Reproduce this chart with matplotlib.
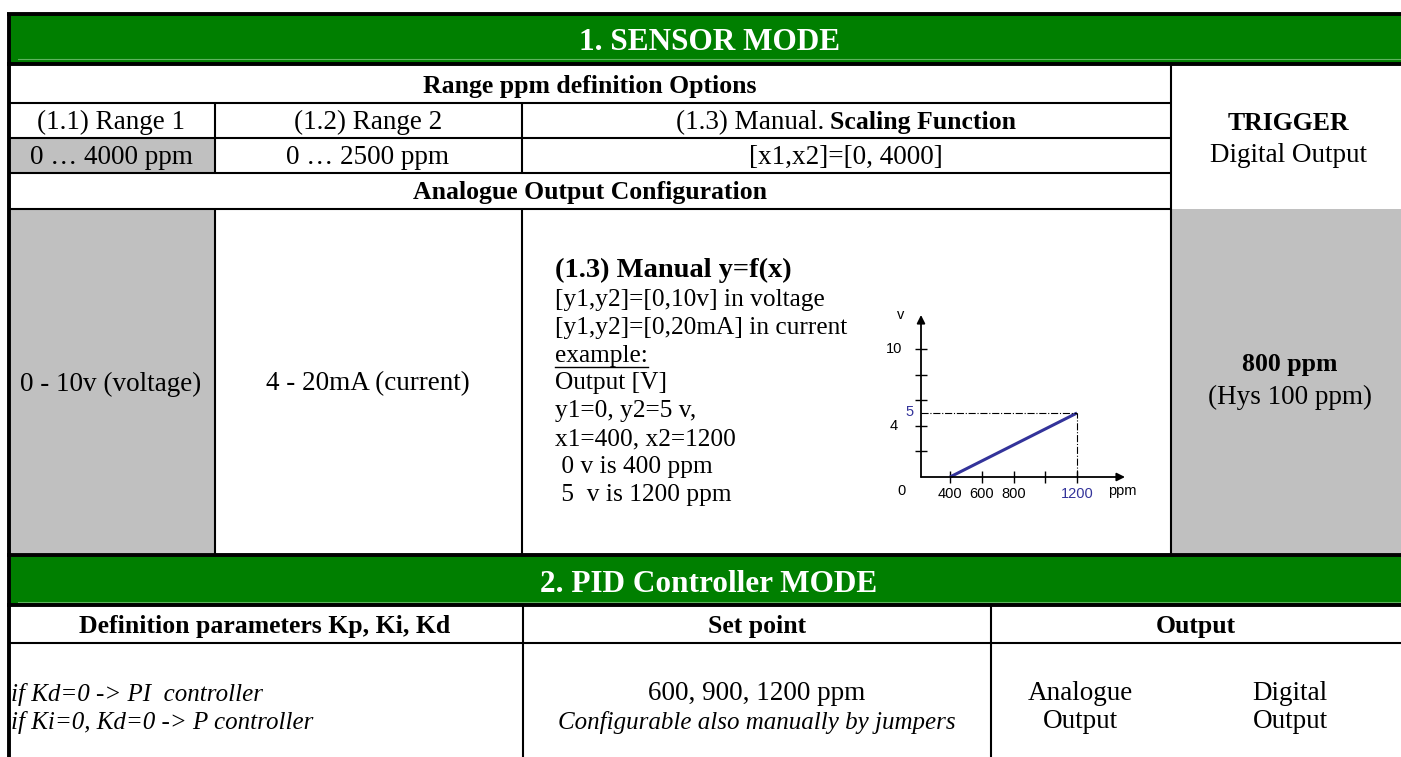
import matplotlib
matplotlib.use("Agg")
import matplotlib.pyplot as plt
from matplotlib.patches import Rectangle

# ---------------- data / texts ----------------
title_1 = "1. SENSOR MODE"
title_2 = "2. PID Controller MODE"
range_header = "Range ppm definition Options"
range_names = ["(1.1) Range 1", "(1.2) Range 2"]
range_manual = ["(1.3) Manual.", "Scaling Function"]
range_values = ["0 … 4000 ppm", "0 … 2500 ppm", "[x1,x2]=[0, 4000]"]
analogue_header = "Analogue Output Configuration"
analogue_opts = ["0 - 10v (voltage)", "4 - 20mA (current)"]
manual_title = "(1.3) Manual y=f(x)"
manual_lines = ["[y1,y2]=[0,10v] in voltage", "[y1,y2]=[0,20mA] in current",
                "example:", "Output [V]", "y1=0, y2=5 v,", "x1=400, x2=1200",
                " 0 v is 400 ppm", " 5  v is 1200 ppm"]
trigger_lines = ["TRIGGER", "Digital Output"]
trigger_values = ["800 ppm", "(Hys 100 ppm)"]
pid_headers = ["Definition parameters Kp, Ki, Kd", "Set point", "Output"]
pid_notes = ["if Kd=0 -> PI  controller", "if Ki=0, Kd=0 -> P controller"]
setpoint_lines = ["600, 900, 1200 ppm", "Configurable also manually by jumpers"]
output_kinds = [["Analogue", "Output"], ["Digital", "Output"]]

# mini chart data
line_ppm = [400, 1200]
line_volt = [0, 5]
x_ticks = [400, 600, 800, 1000, 1200]
x_ticklabels = ["400", "600", "800", "", "1200"]
y_ticks = [2, 4, 6, 8, 10]
y_labels_shown = {10: "10", 4: "4"}

# ---------------- styling ----------------
GREEN = "#007f00"
GRAY = "#c0c0c0"
BLUE = "#33339a"
SERIF = "Liberation Serif"
SANS = "Liberation Sans"

W, H = 1401, 757
fig = plt.figure(figsize=(W / 100, H / 100), dpi=100)
ax = fig.add_axes([0, 0, 1, 1])
ax.set_xlim(0, W)
ax.set_ylim(H, 0)
ax.axis("off")

thin = 1.5
thick = 2.8

def rect(x0, y0, x1, y1, color):
    ax.add_patch(Rectangle((x0, y0), x1 - x0, y1 - y0, facecolor=color, edgecolor="none", zorder=1))

rect(8, 13, W + 5, 63, GREEN)
rect(8, 554, W + 5, 605, GREEN)
rect(8, 138, 215, 173, GRAY)
rect(8, 209, 215, 553, GRAY)
rect(1171, 209, W + 5, 553, GRAY)

ax.plot([18, W], [58.5, 58.5], color="#5fb35f", lw=0.8, zorder=2)
ax.plot([18, W], [601.5, 601.5], color="#5fb35f", lw=0.8, zorder=2)

def hl(y, x0, x1, lw=thin):
    ax.plot([x0, x1], [y, y], color="black", lw=lw, solid_capstyle="butt", zorder=3)

def vl(x, y0, y1, lw=thin):
    ax.plot([x, x], [y0, y1], color="black", lw=lw, solid_capstyle="butt", zorder=3)

hl(14, 7, W + 5, thick)
hl(63.5, 7, W + 5, thick)
hl(554.5, 7, W + 5, thick)
hl(605, 7, W + 5, thick)
vl(8.5, 13, H + 5, thick)

hl(103, 8, 1171)
hl(138, 8, 1171)
hl(173, 8, 1171)
hl(209, 8, 1171)
vl(215, 103, 173)
vl(215, 209, 556)
vl(522, 103, 173)
vl(522, 209, 556)
vl(1171, 64, 556)

hl(643, 8, W + 5)
vl(523, 605, H + 5)
vl(991, 605, H + 5)

# ---------------- texts ----------------
FS = 19.5
FSB = 18.5
DY = 2

def txt(x, y, s, size=FS, weight="normal", style="normal", color="black", ha="center",
        family=SERIF, va="center"):
    return ax.text(x, y + DY, s, fontsize=size, fontweight=weight, fontstyle=style, color=color,
                   ha=ha, va=va, family=family, zorder=5)

txt(710, 41, title_1, size=22.5, weight="bold", color="white")
txt(709, 582, title_2, size=22.5, weight="bold", color="white")

txt(590, 84, range_header, size=FSB, weight="bold")
txt(111, 120, range_names[0])
txt(368, 120, range_names[1])

renderer = fig.canvas.get_renderer()
t1 = txt(0, 127, range_manual[0], ha="left", va="baseline")
t2 = txt(0, 127, range_manual[1], size=FSB, weight="bold", ha="left", va="baseline")
w1 = t1.get_window_extent(renderer).width
w2 = t2.get_window_extent(renderer).width
gap = 6
x_start = 846 - (w1 + gap + w2) / 2
t1.set_x(x_start)
t2.set_x(x_start + w1 + gap)

txt(111, 155, range_values[0])
txt(368, 155, range_values[1])
txt(846, 155, range_values[2])

txt(590, 191, analogue_header, size=FSB, weight="bold")

txt(1288, 121, trigger_lines[0], size=FSB, weight="bold")
txt(1288, 153, trigger_lines[1])

txt(111, 382, analogue_opts[0])
txt(368, 382, analogue_opts[1])

txt(1290, 362, trigger_values[0], size=FSB, weight="bold")
txt(1290, 395, trigger_values[1])

txt(555, 268, manual_title, size=20.5, weight="bold", ha="left")
y0 = 298
step = 27.8
for i, s in enumerate(manual_lines):
    t = txt(555, y0 + i * step, s, size=18.3, ha="left")
    if s == "example:":
        bb = t.get_window_extent(renderer)
        yy = y0 + i * step + DY + 11
        ax.plot([555, 555 + bb.width], [yy, yy], color="black", lw=1.0, zorder=5)

txt(265, 625, pid_headers[0], size=FSB, weight="bold")
txt(757, 625, pid_headers[1], size=FSB, weight="bold")
txt(1196, 625, pid_headers[2], size=FSB, weight="bold")
txt(11, 692, pid_notes[0], size=18, style="italic", ha="left")
txt(11, 720, pid_notes[1], size=18, style="italic", ha="left")
txt(757, 692, setpoint_lines[0])
txt(757, 721, setpoint_lines[1], size=18, style="italic")
for cx, lines in zip([1080, 1290], output_kinds):
    txt(cx, 692, lines[0])
    txt(cx, 720, lines[1])

# ---------------- mini chart ----------------
px_per_ppm = 0.15875
px_per_volt = 12.8
x_origin_px, y_origin_px = 921, 477
x_end_px, y_top_px = 1125, 315
xmin = 400 - (950 - x_origin_px) / px_per_ppm
xmax = xmin + (x_end_px - x_origin_px) / px_per_ppm
ymax = (y_origin_px - y_top_px) / px_per_volt

ax2 = fig.add_axes([x_origin_px / W, (H - y_origin_px) / H,
                    (x_end_px - x_origin_px) / W, (y_origin_px - y_top_px) / H])
ax2.set_xlim(xmin, xmax)
ax2.set_ylim(0, ymax)
ax2.patch.set_alpha(0)
for sp in ax2.spines.values():
    sp.set_visible(False)

ax2.annotate("", xy=(xmax, 0), xytext=(xmin, 0), annotation_clip=False,
             arrowprops=dict(arrowstyle="-|>", color="black", lw=1.3, mutation_scale=12, shrinkA=0, shrinkB=0))
ax2.annotate("", xy=(xmin, ymax), xytext=(xmin, 0), annotation_clip=False,
             arrowprops=dict(arrowstyle="-|>", color="black", lw=1.3, mutation_scale=12, shrinkA=0, shrinkB=0))

ax2.plot(line_ppm, line_volt, color=BLUE, lw=2.2, solid_capstyle="butt", clip_on=False)
ax2.plot([xmin, line_ppm[1]], [line_volt[1], line_volt[1]], color="black", lw=0.8, ls="-.", clip_on=False)
ax2.plot([line_ppm[1], line_ppm[1]], [0, line_volt[1]], color="black", lw=0.8, ls="-.", clip_on=False)

ax2.set_xticks(x_ticks)
ax2.set_xticklabels(x_ticklabels, family=SANS, fontsize=10.5)
ax2.get_xticklabels()[-1].set_color(BLUE)
ax2.set_yticks(y_ticks)
ax2.set_yticklabels([""] * len(y_ticks))
ax2.tick_params(axis="both", direction="inout", length=9, width=1.0, color="black")
ax2.tick_params(axis="x", pad=3)

for val, lab in y_labels_shown.items():
    ax2.text(xmin - 170, val, lab, family=SANS, fontsize=10.5, ha="center", va="center")
ax2.text(xmin - 70, line_volt[1] + 0.1, str(line_volt[1]), family=SANS, fontsize=10.5,
         color=BLUE, ha="center", va="center")
ax2.text(xmin - 130, ymax, "v", family=SANS, fontsize=10.5, ha="center", va="center")
ax2.text(xmin - 120, -1.1, "0", family=SANS, fontsize=10.5, ha="center", va="center")
ax2.text(xmax - 20, -1.1, "ppm", family=SANS, fontsize=10.5, ha="center", va="center")

fig.savefig("out.png", dpi=100)
